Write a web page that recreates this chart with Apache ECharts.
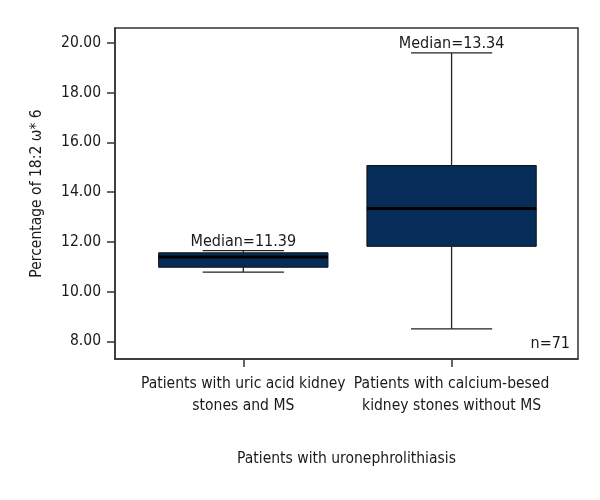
<!DOCTYPE html>
<html><head><meta charset="utf-8">
<script src="https://cdn.jsdelivr.net/npm/echarts@6/dist/echarts.min.js"></script>
<style>html,body{margin:0;padding:0;background:#fff}#c{width:600px;height:500px}</style>
</head><body><div id="c"></div>
<script>
const categories = ['Patients with uric acid kidney\nstones and MS', 'Patients with calcium-besed\nkidney stones without MS'];
const mins    = [10.78, 8.50];
const q1s     = [10.98, 11.82];
const medians = [11.39, 13.34];
const q3s     = [11.56, 15.07];
const maxs    = [11.65, 19.60];
const medianLabels = ['Median=11.39', 'Median=13.34'];
const yTicks = [8, 10, 12, 14, 16, 18, 20];
const nLabel = 'n=71';

const FONT = '"DejaVu Sans Condensed", "Liberation Sans Narrow", sans-serif';
const data = categories.map((c, i) => [i, mins[i], q1s[i], medians[i], q3s[i], maxs[i]]);

const chart = echarts.init(document.getElementById('c'), null, {renderer: 'canvas'});
chart.setOption({
  animation: false,
  backgroundColor: '#fff',
  textStyle: {fontFamily: FONT},
  grid: {left: 115, right: 22, top: 28, bottom: 141, show: true, borderColor: '#333', borderWidth: 1.5, backgroundColor: 'transparent'},
  xAxis: {
    type: 'value', min: -0.616, max: 1.607,
    name: 'Patients with uronephrolithiasis', nameLocation: 'middle', nameGap: 92,
    nameTextStyle: {fontSize: 15.5, color: '#1a1a1a', fontFamily: FONT},
    splitLine: {show: false},
    axisLine: {show: true, onZero: false, lineStyle: {color: '#333', width: 1.5}},
    axisTick: {show: true, length: 8, lineStyle: {color: '#333', width: 1.5}, customValues: [0, 1]},
    axisLabel: {customValues: [0, 1], formatter: v => categories[Math.round(Number(v))] || '', fontSize: 15.5, color: '#1a1a1a', lineHeight: 22, margin: 14, fontFamily: FONT}
  },
  yAxis: {
    type: 'value', min: 7.29, max: 20.6,
    name: 'Percentage of 18:2 \u03c9* 6', nameLocation: 'middle', nameGap: 70,
    nameTextStyle: {fontSize: 15.5, color: '#1a1a1a', fontFamily: FONT},
    splitLine: {show: false},
    axisLine: {show: true, onZero: false, lineStyle: {color: '#333', width: 1.5}},
    axisTick: {show: true, length: 8, lineStyle: {color: '#333', width: 1.5}, customValues: yTicks},
    axisLabel: {customValues: yTicks, formatter: v => Number(v).toFixed(2), fontSize: 15.5, color: '#1a1a1a', margin: 14, fontFamily: FONT}
  },
  series: [{
    type: 'custom',
    data: data,
    encode: {x: 0, y: [1, 2, 3, 4, 5]},
    renderItem: function (params, api) {
      const x = api.value(0);
      const unit = api.size([1, 0])[0];
      const bw = unit * 0.813, cw = unit * 0.39;
      const pMin = api.coord([x, api.value(1)]);
      const pQ1 = api.coord([x, api.value(2)]);
      const pMed = api.coord([x, api.value(3)]);
      const pQ3 = api.coord([x, api.value(4)]);
      const pMax = api.coord([x, api.value(5)]);
      const cx = pMed[0];
      const ls = {stroke: '#222', lineWidth: 1.3};
      return {
        type: 'group',
        children: [
          {type: 'line', shape: {x1: cx, y1: pMin[1], x2: cx, y2: pQ1[1]}, style: ls},
          {type: 'line', shape: {x1: cx, y1: pQ3[1], x2: cx, y2: pMax[1]}, style: ls},
          {type: 'line', shape: {x1: cx - cw / 2, y1: pMin[1], x2: cx + cw / 2, y2: pMin[1]}, style: ls},
          {type: 'line', shape: {x1: cx - cw / 2, y1: pMax[1], x2: cx + cw / 2, y2: pMax[1]}, style: ls},
          {type: 'rect', shape: {x: cx - bw / 2, y: pQ3[1], width: bw, height: pQ1[1] - pQ3[1]}, style: {fill: '#062d59', stroke: '#111', lineWidth: 1}},
          {type: 'line', shape: {x1: cx - bw / 2, y1: pMed[1], x2: cx + bw / 2, y2: pMed[1]}, style: {stroke: '#000', lineWidth: 3}},
          {type: 'text', x: cx, y: pMax[1] - 1, style: {text: medianLabels[params.dataIndex], fill: '#1a1a1a', font: '16px ' + FONT, align: 'center', verticalAlign: 'bottom'}}
        ]
      };
    }
  }],
  graphic: [{type: 'text', right: 30, top: 336, style: {text: nLabel, fill: '#1a1a1a', font: '16px ' + FONT}}]
});
</script></body></html>
